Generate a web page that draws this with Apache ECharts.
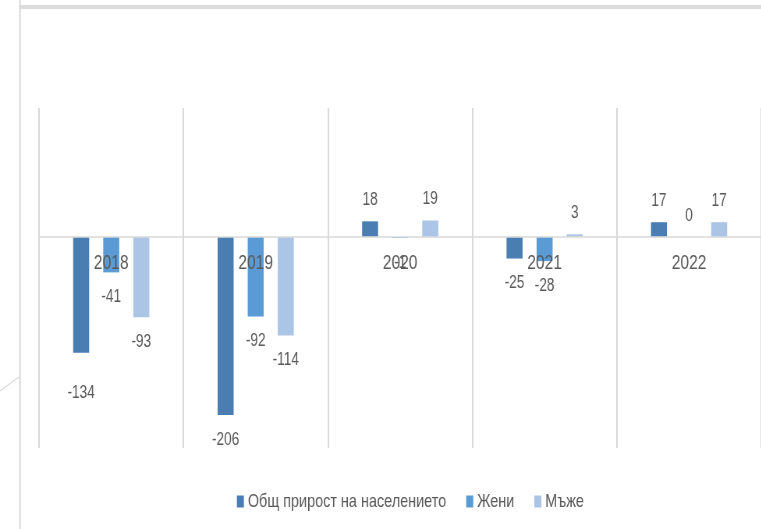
<!DOCTYPE html>
<html>
<head>
<meta charset="utf-8">
<script src="https://cdn.jsdelivr.net/npm/echarts@6/dist/echarts.min.js"></script>
<style>
html,body{margin:0;padding:0;background:#fff;overflow:hidden;width:761px;height:529px;}
#c{width:976px;height:529px;transform:scaleX(0.78);transform-origin:0 0;}
</style>
</head>
<body>
<div id="c"></div>
<script>
const categories = ['2018', '2019', '2020', '2021', '2022'];
const seriesNames = ['Общ прирост на населението', 'Жени', 'Мъже'];
const totalGrowth = [-134, -206, 18, -25, 17];
const women = [-41, -92, -1, -28, 0];
const men = [-93, -114, 19, 3, 17];
const colors = ['#4a7db2', '#5b9bd5', '#aac5e6'];

const SX = 0.78; // horizontal compression of the reference picture
const font = "'Liberation Sans', Arial, sans-serif";
const textColor = '#595959';
const yMin = -244, yMax = 149;
const gridTop = 108, gridHeight = 340;

function makeSeries(name, data, color) {
  return {
    name: name,
    type: 'bar',
    z: 2,
    data: data.map(function (v) {
      const item = { value: v };
      if (v < 0) {
        item.label = { position: 'bottom', distance: 16 };
        if (name === seriesNames[0] && v === -134) item.label.distance = 31;
      }
      return item;
    }),
    barWidth: 16 / SX,
    barGap: '88%',
    itemStyle: { color: color },
    label: {
      show: true,
      position: 'top',
      distance: 12,
      color: textColor,
      fontFamily: font,
      fontSize: 17.5
    }
  };
}

const chart = echarts.init(document.getElementById('c'), null, { renderer: 'canvas' });
chart.setOption({
  animation: false,
  backgroundColor: '#ffffff',
  color: colors,
  grid: { left: 39 / SX, top: gridTop, width: 731 / SX, height: gridHeight, containLabel: false },
  legend: {
    bottom: 13,
    left: 233 / SX,
    itemWidth: 7 / SX,
    itemHeight: 12,
    itemGap: 20 / SX,
    icon: 'rect',
    textStyle: { color: textColor, fontFamily: font, fontSize: 18.5 },
    data: seriesNames
  },
  xAxis: {
    type: 'category',
    data: categories,
    z: 5,
    offset: -gridHeight * (0 - yMin) / (yMax - yMin),
    axisLine: { onZero: false, lineStyle: { color: '#d9d9d9', width: 1.5 } },
    axisTick: { show: false },
    splitLine: { show: true, lineStyle: { color: '#d9d9d9', width: 1.6 / SX } },
    axisLabel: {
      color: textColor,
      fontSize: 20,
      fontFamily: font,
      margin: 17
    }
  },
  yAxis: {
    type: 'value',
    min: yMin,
    max: yMax,
    show: false,
    splitLine: { show: false }
  },
  graphic: [
    { type: 'rect', shape: { x: 20 / SX, y: 5, width: 1000, height: 4 }, style: { fill: '#dcdcdc' }, silent: true },
    { type: 'line', shape: { x1: 20 / SX, y1: 0, x2: 20 / SX, y2: 529 }, style: { stroke: '#d9d9d9', lineWidth: 1.6 / SX }, silent: true },
    { type: 'line', shape: { x1: 0, y1: 391, x2: 19 / SX, y2: 377 }, style: { stroke: '#d9d9d9', lineWidth: 1.3 }, silent: true }
  ],
  series: [
    makeSeries(seriesNames[0], totalGrowth, colors[0]),
    makeSeries(seriesNames[1], women, colors[1]),
    makeSeries(seriesNames[2], men, colors[2])
  ]
});
</script>
</body>
</html>
